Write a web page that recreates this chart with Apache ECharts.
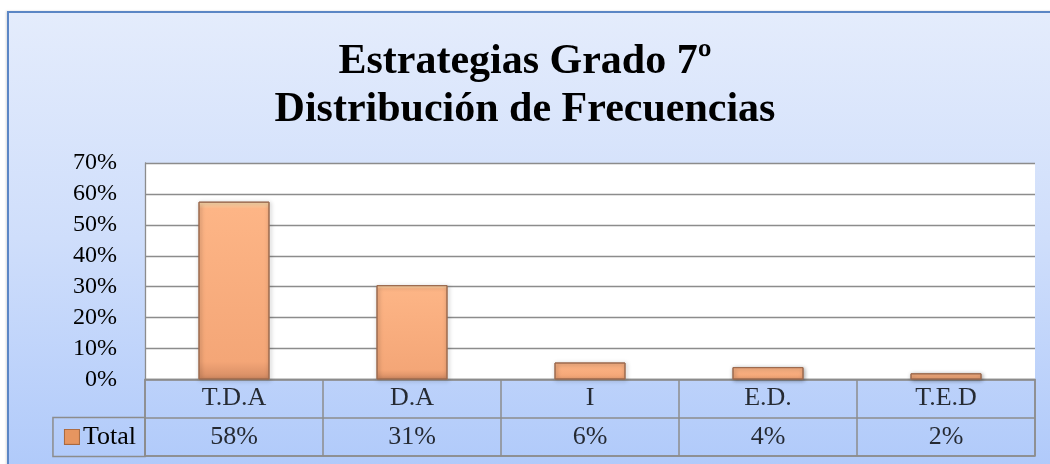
<!DOCTYPE html>
<html>
<head>
<meta charset="utf-8">
<script src="https://cdn.jsdelivr.net/npm/echarts@6/dist/echarts.min.js"></script>
<style>
  html, body { margin: 0; padding: 0; background: #fff; overflow: hidden; }
  #frame {
    position: absolute; left: 7px; top: 11px; width: 1100px; height: 500px;
    border: 2px solid #5B86C5;
    background: linear-gradient(to bottom, #E4ECFC 0%, #CFDEFB 45%, #AAC6FA 100%);
    box-shadow: -1px 0 2px rgba(0,0,0,0.15);
  }
  #chart { position: absolute; left: 0; top: 0; width: 1050px; height: 464px; }
</style>
</head>
<body>
<div id="frame"></div>
<div id="chart"></div>
<script>
// datos
const categorias = ['T.D.A', 'D.A', 'I', 'E.D.', 'T.E.D'];
const valores = [57.5, 30.5, 5.5, 4.0, 2.0];   // porcentaje
const serie = 'Total';
const filas = ['cat', 'val'];

const fuente = 'Liberation Serif';
const gris = '#8C8C8C';

const chart = echarts.init(document.getElementById('chart'));

// celdas de la tabla de datos
const celdas = [];
categorias.forEach((c, i) => {
    celdas.push([c, 'cat', c]);
    celdas.push([c, 'val', Math.round(valores[i]) + '%']);
});

const option = {
    backgroundColor: 'transparent',
    title: {
        text: 'Estrategias Grado 7º\nDistribución de Frecuencias',
        left: 'center',
        top: 33,
        textStyle: {
            fontFamily: fuente,
            fontSize: 42,
            fontWeight: 'bold',
            lineHeight: 48,
            color: '#000'
        }
    },
    grid: [
        {   // área de trazado
            left: 145, top: 163, width: 890, height: 216.5,
            show: true, backgroundColor: '#FFFFFF', borderWidth: 0
        },
        {   // tabla de datos
            left: 145, top: 379.5, width: 890, height: 76.5,
            show: true, backgroundColor: 'transparent', borderColor: gris, borderWidth: 1.5
        }
    ],
    xAxis: [
        {
            type: 'category', gridIndex: 0, data: categorias,
            axisLine: { show: true, lineStyle: { color: gris } },
            axisTick: { show: false },
            axisLabel: { show: false }
        },
        {
            type: 'category', gridIndex: 1, data: categorias,
            axisLine: { show: false },
            axisTick: { show: false },
            axisLabel: { show: false },
            splitLine: { show: true, interval: 0, lineStyle: { color: gris, width: 1.5 } }
        }
    ],
    yAxis: [
        {
            type: 'value', gridIndex: 0, min: 0, max: 70, interval: 10,
            axisLine: { show: true, lineStyle: { color: gris, width: 1.3 } },
            axisTick: { show: false },
            splitLine: { show: true, lineStyle: { color: gris, width: 1.3 } },
            axisLabel: {
                formatter: '{value}%',
                margin: 28,
                fontFamily: fuente, fontSize: 24, color: '#000'
            }
        },
        {
            type: 'category', gridIndex: 1, data: filas, inverse: true,
            axisLine: { show: false },
            axisTick: { show: false },
            splitLine: { show: true, interval: 0, lineStyle: { color: gris, width: 1.5 } },
            axisLabel: {
                margin: 0,
                formatter: v => v === 'val' ? '{icon|}{txt|' + serie + '}' : '',
                padding: [7, 9, 7, 12],
                borderColor: gris,
                borderWidth: 1.5,
                rich: {
                    icon: {
                        width: 14, height: 14,
                        backgroundColor: '#E69560',
                        borderColor: '#A8683F', borderWidth: 1
                    },
                    txt: {
                        fontFamily: fuente, fontSize: 26, color: '#000',
                        lineHeight: 25, padding: [0, 0, 0, 4]
                    }
                }
            }
        }
    ],
    series: [
        {
            type: 'bar',
            name: serie,
            xAxisIndex: 0, yAxisIndex: 0,
            data: valores,
            barWidth: 71,
            itemStyle: {
                color: {
                    type: 'linear', x: 0, y: 0, x2: 0, y2: 1,
                    colorStops: [
                        { offset: 0, color: '#FFE3B4' },
                        { offset: 0.04, color: '#FDB586' },
                        { offset: 0.9, color: '#F4A677' },
                        { offset: 1, color: '#D48B63' }
                    ]
                },
                borderColor: '#9C6A4E',
                borderWidth: 1,
                shadowColor: 'rgba(0,0,0,0.35)',
                shadowBlur: 4,
                shadowOffsetX: 1,
                shadowOffsetY: 1
            }
        },
        {
            type: 'scatter',
            xAxisIndex: 1, yAxisIndex: 1,
            data: celdas,
            symbol: 'rect',
            symbolSize: 1,
            itemStyle: { color: 'transparent' },
            silent: true,
            label: {
                show: true,
                position: 'inside',
                formatter: p => p.data[2],
                fontFamily: fuente, fontSize: 26, color: '#000'
            }
        }
    ]
};

chart.setOption(option);
</script>
</body>
</html>
